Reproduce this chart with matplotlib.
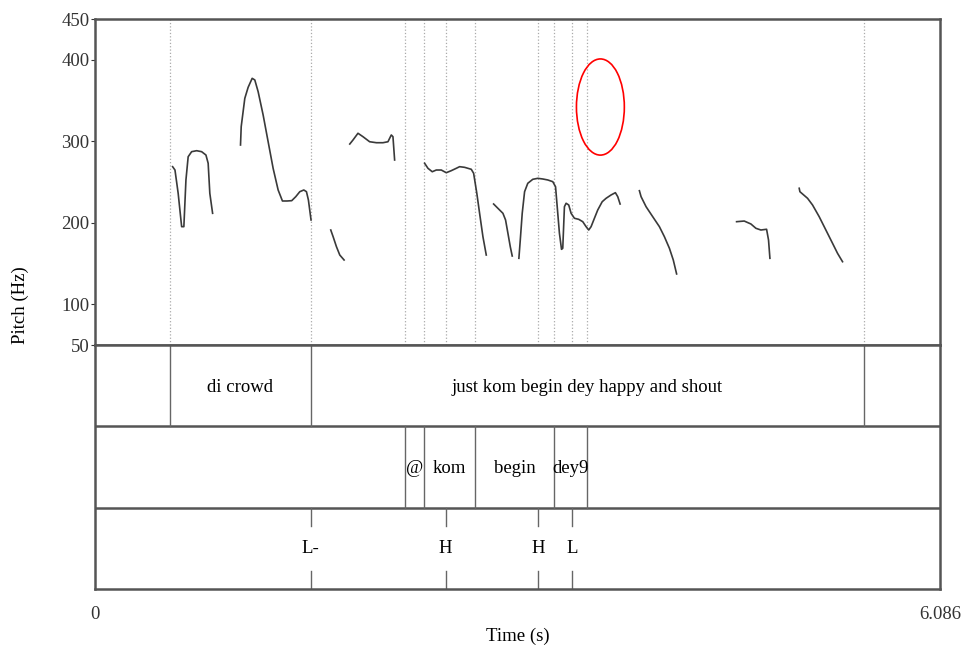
import matplotlib
matplotlib.use("Agg")
import matplotlib.pyplot as plt
from matplotlib.patches import Ellipse

plt.rcParams["font.family"] = ["Liberation Serif", "DejaVu Serif"]

# 時間範圍與音高軸
t_end = 6.086
hz_min, hz_max = 50, 450
hz_ticks = [50, 100, 200, 300, 400, 450]

# 音高曲線（各段）
seg1_t = [0.559, 0.576, 0.599, 0.624, 0.640, 0.655, 0.671, 0.696, 0.732, 0.768, 0.799, 0.815, 0.827, 0.847]
seg1_hz = [268.8, 264.7, 236.1, 195.2, 195.2, 252.5, 281.0, 287.2, 288.4, 287.2, 283.1, 273.0, 236.1, 211.6]

seg2_t = [1.048, 1.053, 1.079, 1.103, 1.132, 1.151, 1.175, 1.211, 1.247, 1.283, 1.319, 1.350, 1.383, 1.417,
          1.446, 1.475, 1.504, 1.523, 1.537, 1.556]
seg2_hz = [295.4, 317.9, 352.7, 366.2, 377.2, 375.2, 360.8, 332.2, 299.4, 266.7, 240.2, 226.7, 226.7, 227.1,
           232.0, 238.1, 240.2, 238.1, 227.9, 203.4]

seg3_t = [1.698, 1.715, 1.739, 1.763, 1.794]
seg3_hz = [191.1, 182.9, 170.6, 160.4, 154.3]

seg4_t = [1.835, 1.858, 1.894, 1.930, 1.978, 2.027, 2.074, 2.110, 2.134, 2.146, 2.158]
seg4_hz = [296.6, 301.5, 309.8, 305.6, 299.4, 298.2, 298.2, 299.4, 307.7, 305.6, 277.0]

seg5_t = [2.374, 2.398, 2.429, 2.458, 2.494, 2.530, 2.566, 2.602, 2.626, 2.662, 2.710, 2.727, 2.750, 2.770,
          2.794, 2.818]
seg5_hz = [273.0, 266.8, 262.6, 264.7, 264.7, 261.4, 263.9, 266.8, 268.8, 268.0, 265.6, 260.7, 236.1, 211.6,
           182.9, 160.4]

seg6_t = [2.871, 2.902, 2.938, 2.957, 2.974, 2.991, 3.005]
seg6_hz = [223.0, 217.7, 211.6, 203.4, 187.1, 170.6, 159.2]

seg7_t = [3.053, 3.063, 3.077, 3.094, 3.117, 3.153, 3.189, 3.225, 3.261, 3.297, 3.317, 3.329, 3.345, 3.360,
          3.369, 3.381, 3.393, 3.412, 3.429, 3.453, 3.484, 3.513, 3.537, 3.556, 3.573, 3.597, 3.621, 3.653,
          3.681, 3.717, 3.748, 3.765, 3.782]
seg7_hz = [156.4, 178.8, 211.6, 238.1, 248.4, 253.3, 254.5, 253.7, 252.5, 250.4, 244.2, 219.7, 187.1, 167.4,
           168.7, 219.7, 223.9, 221.8, 211.6, 205.5, 204.2, 201.3, 195.2, 191.1, 195.2, 205.5, 215.7, 225.8,
           230.0, 234.1, 236.9, 232.0, 223.0]

seg8_t = [3.921, 3.933, 3.969, 4.017, 4.065, 4.101, 4.137, 4.165, 4.189]
seg8_hz = [239.3, 232.0, 219.7, 207.4, 195.2, 182.9, 168.7, 154.3, 137.2]

seg9_t = [4.621, 4.676, 4.724, 4.760, 4.796, 4.837, 4.851, 4.861]
seg9_hz = [201.3, 202.1, 198.5, 193.2, 191.1, 192.0, 178.8, 156.4]

seg10_t = [5.072, 5.077, 5.132, 5.168, 5.216, 5.264, 5.312, 5.348, 5.384]
seg10_hz = [242.3, 238.1, 230.0, 221.8, 207.4, 191.1, 174.8, 162.5, 152.2]

segments = [(seg1_t, seg1_hz), (seg2_t, seg2_hz), (seg3_t, seg3_hz), (seg4_t, seg4_hz), (seg5_t, seg5_hz),
            (seg6_t, seg6_hz), (seg7_t, seg7_hz), (seg8_t, seg8_hz), (seg9_t, seg9_hz), (seg10_t, seg10_hz)]

# TextGrid 層
tier1_bounds = [0.540, 1.554, 5.540]
tier1_labels = ["di crowd", "just kom begin dey happy and shout"]
tier2_bounds = [2.230, 2.370, 2.737, 3.309, 3.547]
tier2_labels = ["@", "kom", "begin", "dey9"]
tier3_times = [1.554, 2.525, 3.194, 3.435]
tier3_labels = ["L-", "H", "H", "L"]

# 紅色橢圓標記
ell_t, ell_hz = 3.640, 342
ell_w, ell_h = 0.345, 118

frame_col = "#555555"
fs = 13.5
W, H = 966, 647
left = 95 / W
width = (940 - 95) / W

fig = plt.figure(figsize=(W / 100, H / 100), dpi=100)
ax = fig.add_axes([left, 1 - 345 / H, width, (345 - 19) / H])
ax_tg = fig.add_axes([left, 1 - 589 / H, width, (589 - 345) / H])

# 虛線（所有邊界）
for t in sorted(set(tier1_bounds + tier2_bounds + tier3_times)):
    ax.axvline(t, color="#aaaaaa", linestyle=":", linewidth=0.9, zorder=1)

for t, hz in segments:
    ax.plot(t, hz, color="#3a3a3a", linewidth=1.2, zorder=3)

ax.add_patch(Ellipse((ell_t, ell_hz), ell_w, ell_h, fill=False, edgecolor="red", linewidth=1.2, zorder=4))

ax.set_xlim(0, t_end)
ax.set_ylim(hz_min, hz_max)
ax.set_yticks(hz_ticks)
ax.set_xticks([])
ax.tick_params(axis="y", direction="out", length=3, width=0.8, labelsize=fs, colors="#333333", pad=1)
for s in ax.spines.values():
    s.set_color(frame_col)
    s.set_linewidth(1.8)

# TextGrid 部分
ax_tg.set_xlim(0, t_end)
ax_tg.set_ylim(0, 3)
for y in [1, 2]:
    ax_tg.axhline(y, color=frame_col, linewidth=1.8)

for t in tier1_bounds:
    ax_tg.plot([t, t], [2, 3], color="#666666", linewidth=1.0)
for i, lab in enumerate(tier1_labels):
    ax_tg.text((tier1_bounds[i] + tier1_bounds[i + 1]) / 2, 2.48, lab, ha="center", va="center", fontsize=fs)

for t in tier2_bounds:
    ax_tg.plot([t, t], [1, 2], color="#666666", linewidth=1.0)
for i, lab in enumerate(tier2_labels):
    ax_tg.text((tier2_bounds[i] + tier2_bounds[i + 1]) / 2, 1.48, lab, ha="center", va="center", fontsize=fs)

for t, lab in zip(tier3_times, tier3_labels):
    ax_tg.plot([t, t], [0.78, 1], color="#666666", linewidth=1.0)
    ax_tg.plot([t, t], [0, 0.22], color="#666666", linewidth=1.0)
    ax_tg.text(t, 0.5, lab, ha="center", va="center", fontsize=fs)

ax_tg.set_yticks([])
ax_tg.set_xticks([0, t_end])
ax_tg.set_xticklabels(["0", "6.086"])
ax_tg.tick_params(axis="x", length=0, labelsize=fs, colors="#333333", pad=12)
for s in ax_tg.spines.values():
    s.set_color(frame_col)
    s.set_linewidth(1.8)

fig.text((95 + 940) / 2 / W, 1 - 636 / H, "Time (s)", ha="center", va="center", fontsize=fs)
fig.text(20 / W, 1 - 305 / H, "Pitch (Hz)", ha="center", va="center", rotation=90, fontsize=fs)

fig.savefig("out.png", dpi=100)
